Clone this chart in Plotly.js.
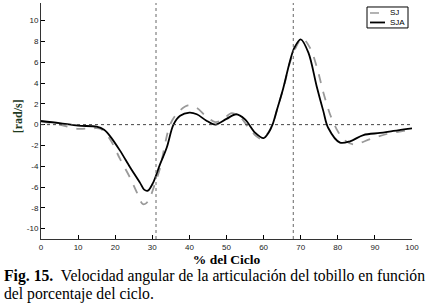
<!DOCTYPE html>
<html>
<head>
<meta charset="utf-8">
<script src="https://cdn.plot.ly/plotly-3.0.1.min.js"></script>
<style>
html,body{margin:0;padding:0;background:#fff;}
#chart{width:434px;height:304px;}
</style>
</head>
<body>
<div id="chart"></div>
<script>
// Data
const seriesNames = ["SJ", "SJA"];
const cycleSJ = [0, 5, 9.7, 14, 16, 18.6, 21.3, 24, 25.8, 26.6, 27.5, 28.4, 29.4, 30.6, 32, 34.8, 37, 39.6, 42, 44.5, 47, 49, 51.4, 53.5, 56, 58, 59.5, 61, 62.4, 64, 65.5, 67.5, 70.4, 72.5, 74.3, 76.1, 77.9, 79.7, 81.5, 84.2, 88.7, 93.2, 97.7, 100];
const velSJ =   [0.3, 0.0, -0.4, -0.35, -0.4, -1.4, -3.3, -5.1, -6.5, -7.2, -7.65, -7.55, -7.0, -5.8, -4.3, 0, 1.2, 1.85, 1.6, 0.8, 0.25, 0.5, 1.1, 0.8, -0.3, -1.1, -1.4, -0.9, 0, 1.9, 3.7, 6.4, 8.3, 7.4, 5.6, 3.1, 1.0, -0.45, -1.4, -1.9, -1.4, -0.9, -0.6, -0.4];
const cycleSJA = [0, 5, 10, 15, 17, 18.6, 21.3, 24, 26.7, 27.8, 28.8, 30.2, 32, 33.9, 35.7, 37.5, 40, 42, 44.5, 47, 50, 52.6, 55, 57.7, 60, 61.3, 62.4, 63.5, 65.3, 67.1, 68.3, 70, 72.1, 74.3, 76.1, 77.4, 80.6, 83.3, 86.9, 91.4, 95, 100];
const velSJA =   [0.35, 0.15, -0.1, -0.2, -0.5, -1.1, -2.5, -4.1, -5.6, -6.25, -6.35, -5.6, -3.9, -2.2, 0, 0.85, 1.15, 1.0, 0.4, 0.0, 0.55, 1.0, 0.5, -0.77, -1.3, -0.8, 0, 1.3, 3.5, 6.1, 7.4, 8.2, 6.9, 3.7, 1.3, -0.3, -1.73, -1.6, -1.0, -0.8, -0.6, -0.35];
const xTicks = [0, 10, 20, 30, 40, 50, 60, 70, 80, 90, 100];
const yTicks = [-10, -8, -6, -4, -2, 0, 2, 4, 6, 8, 10];
const markerLines = [31, 68];
const xTitle = "% del Ciclo";
const yTitle = "[rad/s]";
const captionLine1 = "<b>Fig. 15.</b>&nbsp; Velocidad angular de la articulación del tobillo en función";
const captionLine2 = "del porcentaje del ciclo.";

const traces = [
  {x: cycleSJ, y: velSJ, name: seriesNames[0], mode: "lines",
   line: {color: "#9a9a9a", width: 1.8, dash: "dash", shape: "spline", smoothing: 0.9}},
  {x: cycleSJA, y: velSJA, name: seriesNames[1], mode: "lines",
   line: {color: "#000000", width: 1.8, shape: "spline", smoothing: 0.9}}
];

const shapes = [
  {type: "line", xref: "x", yref: "y", x0: 0, x1: 100, y0: 0, y1: 0,
   line: {color: "#444", width: 1, dash: "dot"}},
  ...markerLines.map(v => ({type: "line", xref: "x", yref: "paper", x0: v, x1: v, y0: 0, y1: 1,
   line: {color: "#666", width: 1, dash: "dot"}})),
  // legend box
  {type: "rect", xref: "paper", yref: "paper", x0: (367-41)/371, x1: (408-41)/371,
   y0: (239.3-28)/236.3, y1: (239.3-7)/236.3, line: {color: "#000", width: 1}, fillcolor: "#fff"},
  {type: "line", xref: "paper", yref: "paper", x0: (370-41)/371, x1: (385-41)/371,
   y0: (239.3-13)/236.3, y1: (239.3-13)/236.3, line: {color: "#9a9a9a", width: 1.5, dash: "dash"}},
  {type: "line", xref: "paper", yref: "paper", x0: (370-41)/371, x1: (385-41)/371,
   y0: (239.3-22.5)/236.3, y1: (239.3-22.5)/236.3, line: {color: "#000", width: 1.8}}
];

const annotations = [
  {text: seriesNames[0], xref: "paper", yref: "paper", x: (388-41)/371, y: (239.3-13)/236.3,
   xanchor: "left", yanchor: "middle", showarrow: false,
   font: {family: "Liberation Sans, Arial", size: 8, color: "#000"}},
  {text: seriesNames[1], xref: "paper", yref: "paper", x: (388-41)/371, y: (239.3-22.5)/236.3,
   xanchor: "left", yanchor: "middle", showarrow: false,
   font: {family: "Liberation Sans, Arial", size: 8, color: "#000"}},
  {text: yTitle, xref: "paper", yref: "paper", x: (17.5-41)/371, y: (239.3-117)/236.3,
   xanchor: "center", yanchor: "middle", textangle: -90, showarrow: false,
   font: {family: "Liberation Serif, Times New Roman, serif", size: 12, color: "#1e3a1e", weight: "bold"}},
  {text: captionLine1, xref: "paper", yref: "paper", x: (2-41)/371, y: (239.3-276)/236.3,
   xanchor: "left", yanchor: "middle", showarrow: false,
   font: {family: "Liberation Serif, Times New Roman, serif", size: 15.7, color: "#000"}},
  {text: captionLine2, xref: "paper", yref: "paper", x: (2-41)/371, y: (239.3-294)/236.3,
   xanchor: "left", yanchor: "middle", showarrow: false,
   font: {family: "Liberation Serif, Times New Roman, serif", size: 15.7, color: "#000"}}
];

const layout = {
  width: 434, height: 304,
  margin: {l: 41, r: 22, t: 3, b: 64.7, pad: 0},
  paper_bgcolor: "#fff", plot_bgcolor: "#fff",
  showlegend: false,
  xaxis: {range: [0, 100], tickvals: xTicks, ticktext: xTicks.map(String),
    ticks: "inside", ticklen: 4, tickcolor: "#000", tickwidth: 1,
    showline: true, linecolor: "#333", linewidth: 1, showgrid: false, zeroline: false,
    tickfont: {family: "Liberation Sans, Arial", size: 8, color: "#222"},
    title: {text: "<b>" + xTitle + "</b>", standoff: 1,
      font: {family: "Liberation Serif, Times New Roman, serif", size: 13.5, color: "#000"}}},
  yaxis: {range: [-11, 11.7], tickvals: yTicks, ticktext: yTicks.map(String),
    ticks: "inside", ticklen: 4, tickcolor: "#000", tickwidth: 1,
    showline: true, linecolor: "#333", linewidth: 1, showgrid: false, zeroline: false,
    tickfont: {family: "Liberation Sans, Arial", size: 8, color: "#222"}},
  shapes: shapes,
  annotations: annotations
};

Plotly.newPlot("chart", traces, layout, {displayModeBar: false, staticPlot: true});
</script>
</body>
</html>
